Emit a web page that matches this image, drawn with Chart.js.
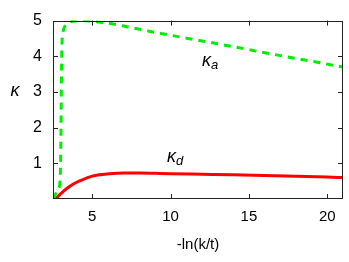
<!DOCTYPE html>
<html><head><meta charset="utf-8">
<script src="https://cdn.jsdelivr.net/npm/chart.js@4/dist/chart.umd.min.js"></script>
<style>html,body{margin:0;padding:0;background:#fff}#wrap{width:349px;height:262px}</style>
</head><body><div id="wrap"><canvas id="c" width="349" height="262"></canvas></div>
<script>
// Data
const kaX = [2.52,2.75,2.95,3.0,3.03,3.07,3.15,3.3,3.5,4.0,4.5,5,6,7,8,8.64,10,12,14,16,18,20,21];
const kaY = [0,0.2,0.5,1.5,3.0,4.3,4.7,4.88,4.95,4.99,5.0,4.98,4.93,4.85,4.76,4.70,4.59,4.43,4.27,4.10,3.94,3.78,3.70];
const kdX = [2.65,3.0,3.4,3.8,4.2,4.6,5.0,5.5,6.1,7,8,9,10,12,14,16,18,20,21];
const kdY = [0,0.15,0.30,0.42,0.51,0.58,0.64,0.68,0.71,0.73,0.73,0.72,0.71,0.695,0.68,0.66,0.64,0.615,0.60];
const xTicks = [5,10,15,20];
const yTicks = [1,2,3,4,5];
const xTitle = '-ln(k/t)';
const yTitle = 'κ';

const FONT = '"Liberation Sans", Arial, Helvetica, sans-serif';
const toPts = (xs, ys) => xs.map((x,i)=>({x:x,y:ys[i]}));

const framePlugin = {
  id:'frame',
  afterDraw(chart){
    const ctx = chart.ctx, a = chart.chartArea, xs = chart.scales.x, ys = chart.scales.y;
    ctx.save();
    ctx.strokeStyle = '#222'; ctx.lineWidth = 1;
    ctx.strokeRect(Math.round(a.left)+0.5, Math.round(a.top)+0.5, Math.round(a.right-a.left)-1, Math.round(a.bottom-a.top)-1);
    const L = 5;
    ctx.beginPath();
    xTicks.forEach(v=>{
      const px = Math.round(xs.getPixelForValue(v))+0.5;
      ctx.moveTo(px, a.bottom); ctx.lineTo(px, a.bottom-L);
      ctx.moveTo(px, a.top); ctx.lineTo(px, a.top+L);
    });
    yTicks.forEach(v=>{
      const py = Math.round(ys.getPixelForValue(v))+0.5;
      ctx.moveTo(a.left, py); ctx.lineTo(a.left+L, py);
      ctx.moveTo(a.right, py); ctx.lineTo(a.right-L, py);
    });
    ctx.stroke();
    // y axis title
    ctx.fillStyle = '#000';
    ctx.font = 'italic 18px ' + FONT;
    ctx.textAlign = 'center'; ctx.textBaseline = 'alphabetic';
    ctx.fillText(yTitle, 15, 96);
    // curve labels
    const lab = (x, y, sub) => {
      const px = xs.getPixelForValue(x), py = ys.getPixelForValue(y);
      ctx.textAlign = 'left';
      ctx.font = 'italic 18px ' + FONT;
      ctx.fillText('κ', px, py);
      const w = ctx.measureText('κ').width;
      ctx.font = 'italic 13px ' + FONT;
      ctx.fillText(sub, px + w, py + 3);
    };
    lab(12.0, 3.73, 'a');
    lab(9.78, 1.03, 'd');
    ctx.restore();
  }
};

new Chart(document.getElementById('c'), {
  type:'line',
  data:{datasets:[
    {data:toPts(kaX,kaY), borderColor:'#00ee00', borderWidth:3, borderDash:[7,6], pointRadius:0, cubicInterpolationMode:'monotone', fill:false},
    {data:toPts(kdX,kdY), borderColor:'#ff0000', borderWidth:3, pointRadius:0, cubicInterpolationMode:'monotone', fill:false}
  ]},
  options:{
    responsive:false, animation:false, devicePixelRatio:1,
    layout:{padding:{left:0,right:6,top:14,bottom:0}},
    plugins:{legend:{display:false}, tooltip:{enabled:false}},
    scales:{
      x:{type:'linear', min:2.5, max:21,
        grid:{display:false, drawTicks:false}, border:{display:false},
        afterBuildTicks:s=>{s.ticks = xTicks.map(v=>({value:v}));},
        afterFit:s=>{s.height = 63;},
        ticks:{padding:9, color:'#000', font:{family:FONT, size:15}, maxRotation:0},
        title:{display:true, text:xTitle, color:'#000', font:{family:FONT, size:15}, padding:{top:0,bottom:8}}
      },
      y:{type:'linear', min:0, max:5,
        grid:{display:false, drawTicks:false}, border:{display:false},
        afterBuildTicks:s=>{s.ticks = yTicks.map(v=>({value:v}));},
        afterFit:s=>{s.width = 53;},
        ticks:{padding:11, color:'#000', font:{family:FONT, size:16}}
      }
    }
  },
  plugins:[framePlugin]
});
</script></body></html>
